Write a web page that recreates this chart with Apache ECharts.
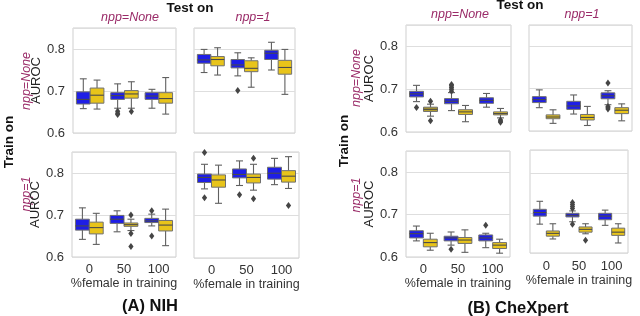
<!DOCTYPE html>
<html><head><meta charset="utf-8">
<script src="https://cdn.jsdelivr.net/npm/echarts@6/dist/echarts.min.js"></script>
<style>html,body{margin:0;padding:0;background:#fff}#c{width:640px;height:316px}</style>
</head><body><div id="c"></div>
<script>
// ---------- DATA ----------
const categories = ['0', '50', '100'];
const yTicks = [0.6, 0.7, 0.8];
// box stats: [min, q1, median, q3, max] per category
// NIH
const nihTrainNone_testNone_blue   = [[0.658,0.669,0.680,0.698,0.729],[0.659,0.680,0.689,0.696,0.717],[0.659,0.680,0.688,0.696,0.704]];
const nihTrainNone_testNone_yellow = [[0.657,0.671,0.690,0.707,0.726],[0.659,0.683,0.693,0.701,0.722],[0.645,0.671,0.682,0.696,0.732]];
const nihTrainNone_testOne_blue    = [[0.744,0.766,0.774,0.787,0.799],[0.736,0.755,0.762,0.775,0.791],[0.750,0.775,0.790,0.797,0.816]];
const nihTrainNone_testOne_yellow  = [[0.738,0.760,0.775,0.782,0.803],[0.709,0.746,0.754,0.772,0.779],[0.692,0.740,0.756,0.773,0.799]];
const nihTrainOne_testNone_blue    = [[0.642,0.664,0.674,0.690,0.717],[0.660,0.680,0.690,0.699,0.710],[0.674,0.682,0.686,0.692,0.702]];
const nihTrainOne_testNone_yellow  = [[0.630,0.655,0.670,0.683,0.704],[0.663,0.673,0.677,0.681,0.690],[0.627,0.662,0.676,0.687,0.714]];
const nihTrainOne_testOne_blue     = [[0.763,0.778,0.790,0.798,0.821],[0.771,0.789,0.797,0.810,0.829],[0.773,0.786,0.800,0.814,0.835]];
const nihTrainOne_testOne_yellow   = [[0.729,0.767,0.784,0.796,0.819],[0.760,0.777,0.790,0.798,0.821],[0.764,0.779,0.793,0.806,0.839]];
// CheXpert
const cxTrainNone_testNone_blue    = [[0.671,0.682,0.689,0.695,0.709],[0.650,0.666,0.672,0.678,0.692],[0.658,0.667,0.674,0.680,0.690]];
const cxTrainNone_testNone_yellow  = [[0.637,0.648,0.653,0.658,0.665],[0.624,0.641,0.647,0.652,0.662],[0.633,0.640,0.643,0.647,0.655]];
const cxTrainNone_testOne_blue     = [[0.655,0.667,0.674,0.681,0.697],[0.640,0.651,0.659,0.670,0.685],[0.662,0.676,0.683,0.690,0.695]];
const cxTrainNone_testOne_yellow   = [[0.618,0.629,0.633,0.638,0.650],[0.613,0.626,0.632,0.639,0.658],[0.624,0.641,0.649,0.655,0.664]];
const cxTrainOne_testNone_blue     = [[0.638,0.645,0.655,0.662,0.673],[0.628,0.638,0.645,0.649,0.659],[0.622,0.638,0.645,0.652,0.656]];
const cxTrainOne_testNone_yellow   = [[0.616,0.624,0.634,0.642,0.656],[0.611,0.632,0.640,0.646,0.664],[0.609,0.620,0.628,0.634,0.642]];
const cxTrainOne_testOne_blue      = [[0.672,0.692,0.701,0.709,0.729],[0.678,0.690,0.694,0.699,0.705],[0.669,0.683,0.692,0.699,0.707]];
const cxTrainOne_testOne_yellow    = [[0.635,0.642,0.649,0.655,0.673],[0.648,0.652,0.659,0.665,0.673],[0.625,0.644,0.652,0.662,0.673]];
// outliers: [categoryIndex, value]
const nihTrainNone_testNone_blueOut   = [[1,0.652],[1,0.647],[1,0.644]];
const nihTrainNone_testNone_yellowOut = [[1,0.651]];
const nihTrainNone_testOne_blueOut    = [[1,0.701]];
const nihTrainNone_testOne_yellowOut  = [];
const nihTrainOne_testNone_blueOut    = [[2,0.710],[2,0.650]];
const nihTrainOne_testNone_yellowOut  = [[1,0.700],[1,0.656],[1,0.625]];
const nihTrainOne_testOne_blueOut     = [[0,0.849],[0,0.742],[1,0.749]];
const nihTrainOne_testOne_yellowOut   = [[1,0.835],[1,0.740],[2,0.724]];
const cxTrainNone_testNone_blueOut    = [[0,0.657],[1,0.695],[1,0.700],[1,0.704],[1,0.708],[1,0.711]];
const cxTrainNone_testNone_yellowOut  = [[0,0.672],[0,0.626],[2,0.628],[2,0.625],[2,0.623]];
const cxTrainNone_testOne_blueOut     = [[2,0.713],[2,0.658],[2,0.655],[2,0.652]];
const cxTrainNone_testOne_yellowOut   = [];
const cxTrainOne_testNone_blueOut     = [[1,0.618],[2,0.675]];
const cxTrainOne_testNone_yellowOut   = [];
const cxTrainOne_testOne_blueOut      = [[1,0.711],[1,0.716],[1,0.721],[1,0.726],[1,0.672]];
const cxTrainOne_testOne_yellowOut    = [[1,0.632]];

// ---------- LAYOUT / STYLE ----------
const FONT = 'Liberation Sans, Arial, sans-serif';
const BLUE = '#1e1ee6', GOLD = '#e8c41a', OLIVE = '#b5a12c';
const panels = [
  {left:73, top:28, width:103, height:105, max:0.85, yl:true,  xl:false, blue:nihTrainNone_testNone_blue, yellow:nihTrainNone_testNone_yellow, bo:nihTrainNone_testNone_blueOut, yo:nihTrainNone_testNone_yellowOut},
  {left:194,top:28, width:101, height:105, max:0.85, yl:false, xl:false, blue:nihTrainNone_testOne_blue, yellow:nihTrainNone_testOne_yellow, bo:nihTrainNone_testOne_blueOut, yo:nihTrainNone_testOne_yellowOut},
  {left:72, top:152,width:104, height:105, max:0.85, yl:true,  xl:true,  blue:nihTrainOne_testNone_blue, yellow:nihTrainOne_testNone_yellow, bo:nihTrainOne_testNone_blueOut, yo:nihTrainOne_testNone_yellowOut},
  {left:194,top:152,width:105, height:106, max:0.85, yl:false, xl:true,  blue:nihTrainOne_testOne_blue, yellow:nihTrainOne_testOne_yellow, bo:nihTrainOne_testOne_blueOut, yo:nihTrainOne_testOne_yellowOut},
  {left:406,top:25, width:105, height:107, max:0.85, yl:true,  xl:false, blue:cxTrainNone_testNone_blue, yellow:cxTrainNone_testNone_yellow, bo:cxTrainNone_testNone_blueOut, yo:cxTrainNone_testNone_yellowOut, yFill0:OLIVE},
  {left:529,top:25, width:103, height:106, max:0.85, yl:false, xl:false, blue:cxTrainNone_testOne_blue, yellow:cxTrainNone_testOne_yellow, bo:cxTrainNone_testOne_blueOut, yo:cxTrainNone_testOne_yellowOut},
  {left:406,top:151,width:104, height:106, max:0.85, yl:true,  xl:true,  blue:cxTrainOne_testNone_blue, yellow:cxTrainOne_testNone_yellow, bo:cxTrainOne_testNone_blueOut, yo:cxTrainOne_testNone_yellowOut},
  {left:530,top:150,width:98,  height:103, max:0.857,yl:false, xl:true,  blue:cxTrainOne_testOne_blue, yellow:cxTrainOne_testOne_yellow, bo:cxTrainOne_testOne_blueOut, yo:cxTrainOne_testOne_yellowOut, xMargin:7}
];

function boxRender(off, fill, fill0) {
  return function (params, api) {
    const x = api.value(0);
    const bw = api.size([1, 0])[0];
    const cx = api.coord([x, 0.7])[0] + off * bw;
    const w = 0.4 * bw;
    const y = i => api.coord([x, api.value(i)])[1];
    const yMin = y(1), yQ1 = y(2), yMed = y(3), yQ3 = y(4), yMax = y(5);
    const cap = w * 0.5;
    const ls = {stroke: '#606060', lineWidth: 1.1};
    const f = (x === 0 && fill0) ? fill0 : fill;
    return {type: 'group', children: [
      {type:'line', shape:{x1:cx, y1:yQ3, x2:cx, y2:yMax}, style: ls},
      {type:'line', shape:{x1:cx, y1:yQ1, x2:cx, y2:yMin}, style: ls},
      {type:'line', shape:{x1:cx-cap/2, y1:yMax, x2:cx+cap/2, y2:yMax}, style: ls},
      {type:'line', shape:{x1:cx-cap/2, y1:yMin, x2:cx+cap/2, y2:yMin}, style: ls},
      {type:'rect', shape:{x:cx-w/2, y:yQ3, width:w, height:yQ1-yQ3}, style:{fill:f, stroke:'#707070', lineWidth:1}},
      {type:'line', shape:{x1:cx-w/2, y1:yMed, x2:cx+w/2, y2:yMed}, style:{stroke:'#4a4a4a', lineWidth:1.1}}
    ]};
  };
}
function outRender(off) {
  return function (params, api) {
    const x = api.value(0);
    const bw = api.size([1, 0])[0];
    const p = api.coord([x, api.value(1)]);
    const cx = p[0] + off * bw, cy = p[1];
    return {type:'polygon', shape:{points:[[cx,cy-3.5],[cx+2.6,cy],[cx,cy+3.5],[cx-2.6,cy]]}, style:{fill:'#454545'}};
  };
}

const grid = [], xAxis = [], yAxis = [], series = [];
panels.forEach((p, i) => {
  grid.push({left:p.left, top:p.top, width:p.width, height:p.height, show:true, borderColor:'#cfcfcf', borderWidth:1, backgroundColor:'transparent'});
  xAxis.push({type:'category', gridIndex:i, data:categories, boundaryGap:true,
    axisLine:{show:false}, axisTick:{show:false}, splitLine:{show:false},
    axisLabel:{show:p.xl, fontSize:13, color:'#333', fontFamily:FONT, margin:p.xMargin || 6},
    name: p.xl ? '%female in training' : '', nameLocation:'middle', nameGap: p.xl ? 20 : 0,
    nameTextStyle:{fontSize:12.5, color:'#333', fontFamily:FONT}});
  yAxis.push({type:'value', gridIndex:i, min:0.6, max:p.max, interval:0.1,
    axisLine:{show:false}, axisTick:{show:false},
    splitLine:{show:true, lineStyle:{color:'#dedede', width:1}},
    axisLabel:{show:p.yl, fontSize:13, color:'#333', fontFamily:FONT, margin:8,
      formatter: v => yTicks.some(t => Math.abs(t - v) < 1e-6) ? v.toFixed(1) : ''},
    name: p.yl ? 'AUROC' : '', nameLocation:'middle', nameRotate:90, nameGap:27,
    nameTextStyle:{fontSize:13, color:'#222', fontFamily:FONT}});
  const mk = arr => arr.map((s, k) => [k].concat(s));
  series.push({type:'custom', xAxisIndex:i, yAxisIndex:i, renderItem: boxRender(-0.2, BLUE), data: mk(p.blue), encode:{x:0, y:[1,2,3,4,5]}, silent:true});
  series.push({type:'custom', xAxisIndex:i, yAxisIndex:i, renderItem: boxRender(0.2, GOLD, p.yFill0), data: mk(p.yellow), encode:{x:0, y:[1,2,3,4,5]}, silent:true});
  series.push({type:'custom', xAxisIndex:i, yAxisIndex:i, renderItem: outRender(-0.2), data: p.bo, encode:{x:0, y:1}, silent:true});
  series.push({type:'custom', xAxisIndex:i, yAxisIndex:i, renderItem: outRender(0.2), data: p.yo, encode:{x:0, y:1}, silent:true});
});

const PURPLE = '#9a2b68';
function txt(x, y, text, size, weight, style, fill, rot) {
  return {type:'text', x, y, rotation: rot ? Math.PI/2 : 0,
    style:{text, align:'center', verticalAlign:'middle', fontFamily:FONT, fontSize:size, fontWeight:weight, fontStyle:style, fill}};
}
const graphic = [
  txt(190, 8, 'Test on', 13.5, 'bold', 'normal', '#111'),
  txt(520, 5, 'Test on', 13.5, 'bold', 'normal', '#111'),
  txt(130, 18, 'npp=None', 12.5, 'normal', 'italic', PURPLE),
  txt(253, 18, 'npp=1', 12.5, 'normal', 'italic', PURPLE),
  txt(460, 15, 'npp=None', 12.5, 'normal', 'italic', PURPLE),
  txt(582, 15, 'npp=1', 12.5, 'normal', 'italic', PURPLE),
  txt(9, 142, 'Train on', 13.5, 'bold', 'normal', '#111', true),
  txt(344, 141, 'Train on', 13.5, 'bold', 'normal', '#111', true),
  txt(27, 81, 'npp=None', 12.5, 'normal', 'italic', PURPLE, true),
  txt(27, 194, 'npp=1', 12.5, 'normal', 'italic', PURPLE, true),
  txt(357, 78, 'npp=None', 12.5, 'normal', 'italic', PURPLE, true),
  txt(357, 195, 'npp=1', 12.5, 'normal', 'italic', PURPLE, true),
  txt(150, 306, '(A) NIH', 16.5, 'bold', 'normal', '#111'),
  txt(518, 308, '(B) CheXpert', 16.5, 'bold', 'normal', '#111')
];

const chart = echarts.init(document.getElementById('c'), null, {renderer:'canvas'});
chart.setOption({animation:false, backgroundColor:'#fff', grid, xAxis, yAxis, series, graphic});
</script></body></html>
